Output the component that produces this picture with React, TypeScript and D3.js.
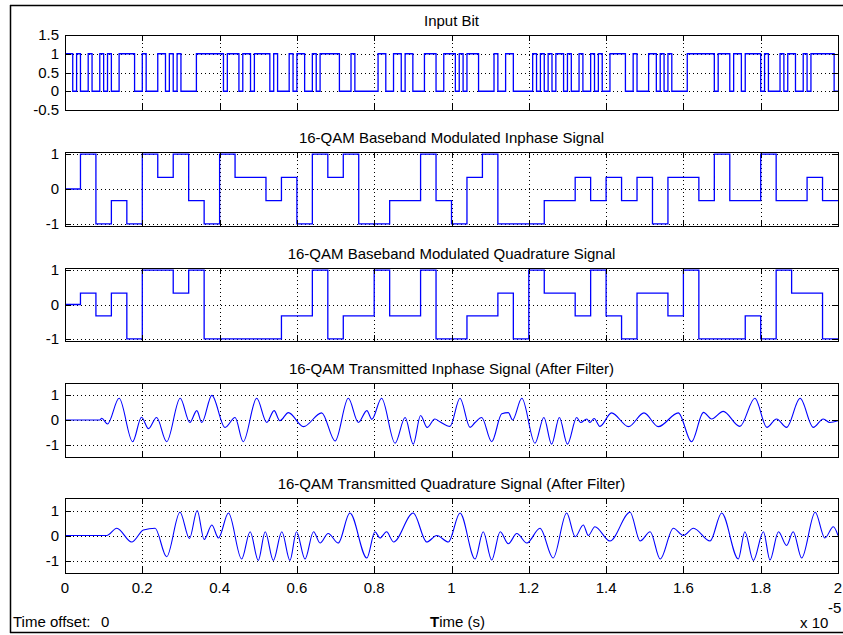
import React from 'react';
import * as d3 from 'd3';

// time is in units of 1e-5 s (axis shows 0..2, "x 10^-5")
const inputBits = [
  1, 1, 0, 1, 0, 0, 1, 0, 0, 1, 0, 1, 0, 0, 1, 1, 1, 1, 0, 0,
  1, 0, 0, 0, 1, 1, 0, 1, 0, 1, 0, 0, 0, 0, 1, 1, 1, 1, 1, 1,
  1, 0, 1, 1, 1, 0, 1, 1, 0, 1, 1, 1, 1, 0, 1, 0, 0, 0, 1, 0,
  1, 1, 0, 0, 1, 0, 1, 1, 1, 1, 1, 0, 0, 0, 1, 0, 0, 0, 0, 0,
  0, 1, 1, 0, 0, 1, 1, 0, 1, 1, 0, 0, 0, 1, 1, 1, 0, 0, 1, 1,
  1, 0, 1, 0, 1, 1, 1, 0, 0, 0, 0, 1, 0, 0, 1, 1, 0, 0, 0, 0,
  0, 1, 0, 1, 0, 1, 0, 1, 1, 0, 1, 0, 0, 1, 0, 0, 1, 0, 1, 0,
  0, 1, 1, 1, 1, 0, 0, 1, 0, 0, 0, 1, 1, 0, 1, 0, 1, 0, 0, 0,
  0, 1, 1, 1, 1, 1, 1, 1, 0, 1, 1, 1, 0, 1, 1, 0, 1, 1, 1, 1,
  0, 1, 0, 0, 0, 1, 0, 1, 1, 0, 0, 1, 0, 1, 1, 1, 1, 1, 1, 0,
];

const inphaseSymbols = [
  0, 1, -1, -0.333, -1, 1, 0.333, 1, -0.333, -1,
  1, 0.333, 0.333, -0.333, 0.333, -1, 1, 0.333, 1, -1,
  -1, -0.333, -0.333, 1, -0.333, -1, 0.333, 1, -1, -1,
  -1, -0.333, -0.333, 0.333, -0.333, 0.333, -0.333, 0.333, -1, 0.333,
  0.333, -0.333, 1, -0.333, -0.333, 1, -0.333, -0.333, 0.333, -0.333,
];

const quadratureSymbols = [
  0, 0.333, -0.333, 0.333, -1, 1, 1, 0.333, 1, -1,
  -1, -1, -1, -1, -0.333, -0.333, 1, -1, -0.333, -0.333,
  1, -0.333, -0.333, 1, -1, -1, -0.333, -0.333, 0.333, -1,
  1, 0.333, 0.333, -0.333, 1, -0.333, -1, 0.333, 0.333, -0.333,
  1, -1, -1, -1, -0.333, -1, 1, 0.333, 0.333, -1,
];

const filteredInphase: [number, number][] = [
  [0, 0], [0.09, 0], [0.095, 0.07], [0.11, -0.16], [0.14, 0.88], [0.175, -0.88],
  [0.198, 0.11], [0.216, -0.35], [0.237, 0.1], [0.263, -0.88], [0.298, 0.88],
  [0.323, -0.1], [0.341, 0.38], [0.354, -0.1], [0.38, 1.0], [0.414, -0.3],
  [0.44, 0.1], [0.461, -0.88], [0.496, 0.88], [0.522, -0.1], [0.541, 0.38],
  [0.556, -0.03], [0.578, 0.3], [0.617, -0.27], [0.664, 0.29], [0.699, -0.85],
  [0.733, 0.88], [0.759, -0.1], [0.781, 0.38], [0.794, 0.03], [0.819, 0.88],
  [0.854, -0.94], [0.88, 0.1], [0.901, -0.98], [0.92, 0.18], [0.937, -0.3],
  [0.957, 0.04], [0.97, -0.07], [0.996, -0.26], [1.022, 0.88], [1.048, -0.3],
  [1.061, -0.1], [1.078, 0.1], [1.104, -0.88], [1.13, 0.25], [1.147, 0.3],
  [1.158, 0.0], [1.182, 0.88], [1.216, -0.94], [1.239, 0.1], [1.259, -0.98],
  [1.279, 0.1], [1.3, -0.98], [1.324, 0.1], [1.334, -0.1], [1.35, 0.04],
  [1.358, -0.1], [1.369, 0.06], [1.384, -0.26], [1.414, 0.29], [1.458, -0.27],
  [1.498, 0.29], [1.535, -0.27], [1.587, 0.29], [1.621, -0.88], [1.652, 0.31],
  [1.673, 0.04], [1.703, 0.35], [1.746, -0.26], [1.785, 0.88], [1.816, -0.3],
  [1.841, 0.04], [1.867, -0.3], [1.902, 0.88], [1.936, -0.3], [1.962, 0.04],
  [1.979, -0.1], [2.0, -0.03],
];

const filteredQuadrature: [number, number][] = [
  [0, 0], [0.108, 0], [0.134, 0.29], [0.1725, -0.26], [0.203, 0.22], [0.233, 0.29],
  [0.263, -0.85], [0.2975, 0.93], [0.322, -0.12], [0.342, 1.0], [0.36, -0.16],
  [0.38, 0.42], [0.397, -0.1], [0.423, 0.9], [0.457, -0.94], [0.479, 0.15],
  [0.5, -1.0], [0.518, 0.15], [0.539, -1.0], [0.561, 0.15], [0.582, -1.0],
  [0.599, 0.15], [0.621, -0.94], [0.643, 0.15], [0.66, -0.3], [0.681, 0.08],
  [0.707, -0.3], [0.737, 0.9], [0.781, -0.9], [0.802, 0.15], [0.815, -0.1],
  [0.832, 0.15], [0.85, -0.26], [0.901, 0.9], [0.936, -0.26], [0.962, 0],
  [0.992, -0.26], [1.022, 0.9], [1.061, -0.94], [1.082, 0.15], [1.104, -0.98],
  [1.126, 0.15], [1.147, -0.33], [1.169, 0.08], [1.195, -0.3], [1.229, 0.29],
  [1.263, -0.9], [1.298, 0.9], [1.32, -0.05], [1.341, 0.42], [1.354, 0.0],
  [1.371, 0.35], [1.41, -0.22], [1.462, 0.93], [1.488, -0.22], [1.514, 0.15],
  [1.54, -0.94], [1.574, 0.29], [1.6, 0.0], [1.626, 0.29], [1.669, -0.22],
  [1.699, 0.9], [1.742, -0.94], [1.759, 0.15], [1.781, -1], [1.807, 0.15],
  [1.824, -0.98], [1.846, 0.15], [1.867, -0.4], [1.884, 0.15], [1.906, -0.9],
  [1.941, 0.93], [1.966, -0.1], [1.988, 0.35], [2.0, 0.0],
];

const timeTicks = [0, 0.2, 0.4, 0.6, 0.8, 1, 1.2, 1.4, 1.6, 1.8, 2];
const bitTicks = [-0.5, 0, 0.5, 1, 1.5];
const levelTicks = [-1, 0, 1];

const BIT_T = 0.01;
const SYM_T = 0.04;
const X0 = 65;
const X1 = 838;
const FONT = 'Liberation Sans, Arial, Helvetica, sans-serif';
const BLUE = '#0000ff';

const stairs = (vals: number[], dt: number): [number, number][] => {
  const pts: [number, number][] = vals.map((v, i) => [i * dt, v]);
  pts.push([vals.length * dt, vals[vals.length - 1]]);
  return pts;
};

const panels = [
  { id: 'bits', title: 'Input Bit', top: 35, bottom: 110, domain: [-0.5, 1.5], ticks: bitTicks,
    data: [[0, 0] as [number, number], ...stairs(inputBits, BIT_T)], step: true },
  { id: 'iband', title: '16-QAM Baseband Modulated Inphase Signal', top: 152, bottom: 226, domain: [-1.06, 1.06],
    ticks: levelTicks, data: stairs(inphaseSymbols, SYM_T), step: true },
  { id: 'qband', title: '16-QAM Baseband Modulated Quadrature Signal', top: 268, bottom: 341, domain: [-1.06, 1.06],
    ticks: levelTicks, data: stairs(quadratureSymbols, SYM_T), step: true },
  { id: 'itx', title: '16-QAM Transmitted Inphase Signal (After Filter)', top: 383, bottom: 457, domain: [-1.5, 1.5],
    ticks: levelTicks, data: filteredInphase, step: false },
  { id: 'qtx', title: '16-QAM Transmitted Quadrature Signal (After Filter)', top: 498, bottom: 573, domain: [-1.5, 1.5],
    ticks: levelTicks, data: filteredQuadrature, step: false },
];

const x = d3.scaleLinear().domain([0, 2]).range([X0, X1]);

function Panel({ p, last }: { p: typeof panels[number]; last: boolean }) {
  const y = d3.scaleLinear().domain(p.domain).range([p.bottom, p.top]);
  const line = d3.line<[number, number]>()
    .x((d) => x(d[0]))
    .y((d) => y(d[1]))
    .curve(p.step ? d3.curveStepAfter : d3.curveMonotoneX);
  const inner = timeTicks.filter((t) => t > 0 && t < 2);
  const tl = 6;
  return (
    <g>
      <defs>
        <clipPath id={`clip-${p.id}`}>
          <rect x={X0} y={p.top} width={X1 - X0} height={p.bottom - p.top} />
        </clipPath>
      </defs>
      <rect x={X0} y={p.top} width={X1 - X0} height={p.bottom - p.top} fill="#fff" />
      <g stroke="#000" strokeWidth={1} strokeDasharray="1,3" shapeRendering="crispEdges">
        {inner.map((t) => (
          <line key={`gx${t}`} x1={Math.round(x(t)) + 0.5} x2={Math.round(x(t)) + 0.5} y1={p.top} y2={p.bottom} />
        ))}
        {p.ticks.filter((v) => y(v) > p.top + 0.5 && y(v) < p.bottom - 0.5).map((v) => (
          <line key={`gy${v}`} x1={X0} x2={X1} y1={Math.round(y(v)) + 0.5} y2={Math.round(y(v)) + 0.5} />
        ))}
      </g>
      <path d={line(p.data as [number, number][]) || ''} fill="none" stroke={BLUE}
        strokeWidth={p.step ? 1.3 : 1.1} clipPath={`url(#clip-${p.id})`} />
      <g stroke="#000" strokeWidth={1} shapeRendering="crispEdges">
        {inner.map((t) => {
          const xx = Math.round(x(t)) + 0.5;
          return (
            <g key={`tx${t}`}>
              <line x1={xx} x2={xx} y1={p.top} y2={p.top + tl} />
              <line x1={xx} x2={xx} y1={p.bottom} y2={p.bottom - tl} />
            </g>
          );
        })}
        {p.ticks.map((v) => {
          const yy = Math.round(y(v)) + 0.5;
          return (
            <g key={`ty${v}`}>
              <line x1={X0} x2={X0 + tl} y1={yy} y2={yy} />
              <line x1={X1} x2={X1 - tl} y1={yy} y2={yy} />
            </g>
          );
        })}
        <rect x={X0 + 0.5} y={p.top + 0.5} width={X1 - X0} height={p.bottom - p.top} fill="none" />
      </g>
      <g fontFamily={FONT} fontSize={15} fill="#000">
        <text x={(X0 + X1) / 2} y={p.top - 9} textAnchor="middle">{p.title}</text>
        {p.ticks.map((v) => (
          <text key={`ly${v}`} x={59} y={y(v) + 5} textAnchor="end">{String(v)}</text>
        ))}
        {last && timeTicks.map((t) => (
          <text key={`lx${t}`} x={x(t)} y={593} textAnchor="middle">{String(t)}</text>
        ))}
      </g>
    </g>
  );
}

export default function App() {
  return (
    <svg width={843} height={635} style={{ position: 'absolute', left: 0, top: 0, display: 'block', background: '#fff' }}>
      <rect x={0} y={0} width={843} height={635} fill="#fff" />
      <g stroke="#000" strokeWidth={1.5} fill="none">
        <line x1={10.5} x2={10.5} y1={5} y2={633} />
        <line x1={10} x2={843} y1={5.5} y2={5.5} />
        <line x1={10} x2={843} y1={632.5} y2={632.5} />
      </g>
      {panels.map((p, i) => (
        <Panel key={p.id} p={p} last={i === panels.length - 1} />
      ))}
      <g fontFamily={FONT} fontSize={15} fill="#000">
        <text x={13} y={627}>Time offset:</text>
        <text x={101} y={627}>0</text>
        <text x={430} y={627}><tspan fontWeight="bold">T</tspan>ime (s)</text>
        <text x={800} y={628}>x 10</text>
        <text x={828} y={613}>-5</text>
      </g>
    </svg>
  );
}
